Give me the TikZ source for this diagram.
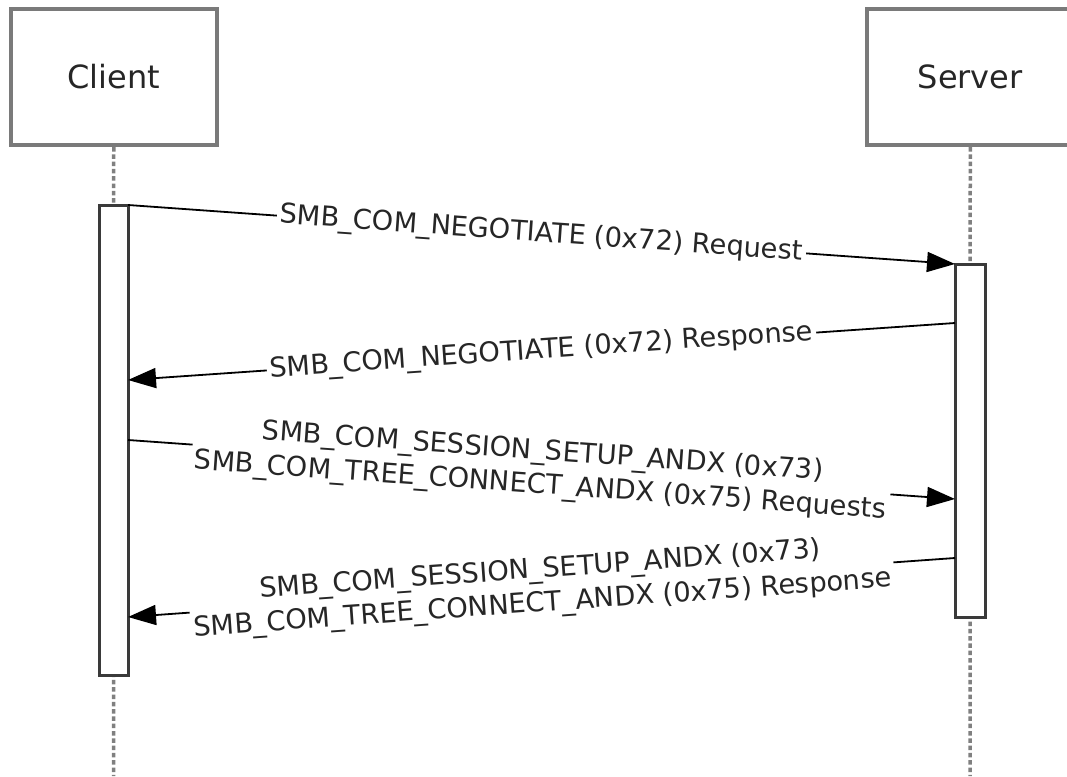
\documentclass[tikz,border=0pt]{standalone}
\usepackage{fontspec}
\setmainfont{DejaVu Sans}
\usetikzlibrary{arrows.meta}
\definecolor{boxgray}{HTML}{7A7A7A}
\definecolor{linegray}{HTML}{808080}
\definecolor{bargray}{HTML}{3A3A3A}
\definecolor{textgray}{HTML}{262626}
\begin{document}
\begin{tikzpicture}[x=1pt,y=-1pt,
 actor/.style={draw=boxgray, line width=4pt, fill=white, minimum width=206.5pt, minimum height=136pt, font=\fontsize{32}{38}\selectfont, text=textgray, inner sep=0pt},
 lifeline/.style={draw=linegray, line width=3.5pt, dash pattern=on 4.5pt off 2.8pt},
 actbar/.style={draw=bargray, line width=3pt, fill=white, inner sep=0pt},
 msg/.style={draw=black, line width=1.8pt, -{Triangle[length=28pt,width=20pt]}},
 lbl/.style={fill=white, sloped, align=center, inner sep=3pt, font=\fontsize{27.3}{34}\selectfont, text=textgray}
]
\clip (0,0) rectangle (1067,776);
\fill[white] (0,0) rectangle (1067,776);

% actors
\node[actor] (client) at (113.75,77) {Client};
\node[actor] (server) at (970.25,77) {Server};

% lifelines
\coordinate (cend) at (113.5,776);
\coordinate (send) at (970,776);
\draw[lifeline] (client.south) -- (cend);
\draw[lifeline] (server.south) -- (send);

% activation bars
\node[actbar, minimum width=29pt, minimum height=470pt] (cbar) at (113.5,440) {};
\node[actbar, minimum width=30pt, minimum height=353pt] (sbar) at (970,440.5) {};

% message anchor points
\coordinate (c1) at (128,205);
\coordinate (s1) at (955,264);
\coordinate (s2) at (955,323);
\coordinate (c2) at (128,380);
\coordinate (c3) at (128,440);
\coordinate (s3) at (955,499);
\coordinate (s4) at (955,558);
\coordinate (c4) at (128,617);

% messages
\draw[msg] (c1) -- node[lbl] {SMB\_COM\_NEGOTIATE (0x72) Request} (s1);
\draw[msg] (s2) -- node[lbl] {SMB\_COM\_NEGOTIATE (0x72) Response} (c2);
\draw[msg] (c3) -- node[lbl] {SMB\_COM\_SESSION\_SETUP\_ANDX (0x73)\\SMB\_COM\_TREE\_CONNECT\_ANDX (0x75) Requests} (s3);
\draw[msg] (s4) -- node[lbl] {SMB\_COM\_SESSION\_SETUP\_ANDX (0x73)\\SMB\_COM\_TREE\_CONNECT\_ANDX (0x75) Response} (c4);
\end{tikzpicture}
\end{document}
